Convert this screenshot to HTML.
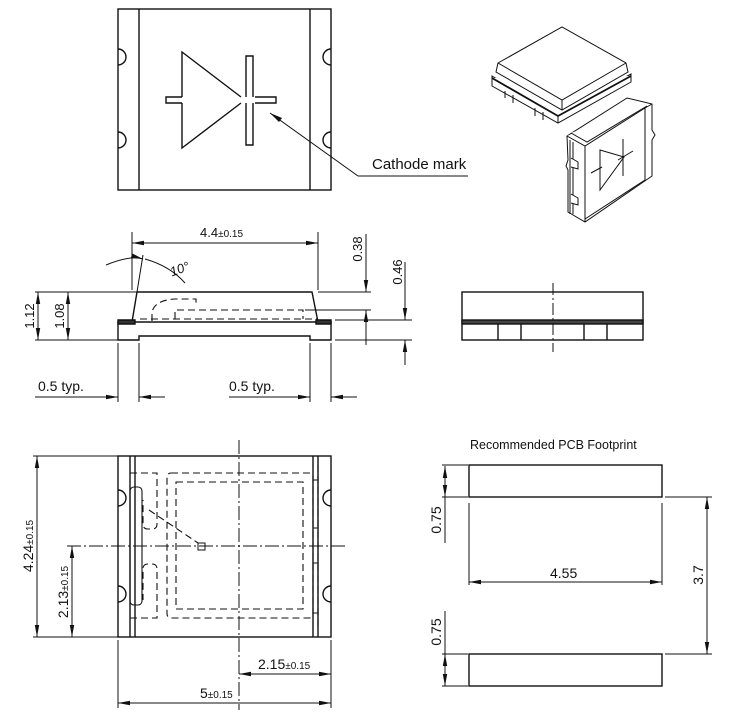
<!DOCTYPE html>
<html><head><meta charset="utf-8"><style>
html,body{margin:0;padding:0;background:#fff;}
svg{display:block;}
text{font-family:"Liberation Sans",sans-serif;fill:#111;}
</style></head><body>
<svg width="735" height="724" viewBox="0 0 735 724" xmlns="http://www.w3.org/2000/svg">
<defs>
<marker id="a" viewBox="0 0 12 6" refX="12" refY="3" markerWidth="12" markerHeight="6" orient="auto-start-reverse" markerUnits="userSpaceOnUse"><path d="M0,0.8 L12,3 L0,5.2z" fill="#111"/></marker>
</defs>
<g fill="none" stroke="#111" stroke-width="1.4">
<!-- TOP VIEW -->
<rect x="118" y="9" width="213" height="181"/>
<line x1="139" y1="9" x2="139" y2="190"/><line x1="310" y1="9" x2="310" y2="190"/>
<path d="M118,49 A8,8 0 0 1 118,65 M118,132 A8,8 0 0 1 118,148 M331,49 A8,8 0 0 0 331,65 M331,132 A8,8 0 0 0 331,148"/>
<path d="M182,97 V52 L241,97 M182,103 V148 L241,103 M182,97 H166 V103 H182 M255,97 H276 V103 H255 M246,97 V56 H253 V97 M246,103 V145 H253 V103"/>
<path d="M358,176 L270,113 M358,176 H468" stroke-width="1"/>
<path d="M270,113 L282,118 L279,122z" fill="#111" stroke="none"/>
</g>
<text x="372" y="169" font-size="15">Cathode mark</text>

<!-- ISOMETRIC TOP PIECE -->
<g fill="#fff" stroke="#111" stroke-width="1">
<path d="M492,76 L558,114 L631,74 L631,82 L558,123 L492,86 Z"/>
<path d="M492,78 L558,116 L631,76" stroke-width="1.8"/>
<path d="M505,91 V98 M513,95 V103 M535,108 V116 M543,112 V120 M558,116 V123"/>
<path d="M498,63 L562,27 L626,63 L628,72 L562,110 L496,72 Z"/>
<path d="M498,63 L562,100 L626,63 M562,100 V110"/>
</g>
<!-- ISOMETRIC BOTTOM PIECE -->
<g fill="#fff" stroke="#111" stroke-width="1">
<path d="M567,136 L627,98 L652,104 L652,130 L655,135 L652,140 L652,176 L585,222 L568,212 L568,170 L566,166 L568,160 Z"/>
<path d="M567,136 L585,146 L645,108 L652,104 M585,146 V222 M645,108 V180 L585,219 M570,140 L570,214 M573,142 V214"/>
<path d="M571,133 L587,142 L647,106" />
<path d="M600,150 L624,157 L600,190 Z M591,173 L602,167 M618,160 L633,151 M623,139 L623,176"/>
<path d="M571,158 L578,162 L578,169 L571,167 M571,194 L578,198 L578,205 L571,203"/>
</g>

<!-- SIDE VIEW -->
<g fill="none" stroke="#111" stroke-width="1.4">
<path d="M132,322 L137,292 H312 L318,322"/>
<path d="M118,322 H331 V340 H310 V336 H139 V340 H118 Z"/>
<path d="M118,320 H135 V324 H118Z M316,320 H331 V324 H316Z" fill="#333"/>
<g stroke-dasharray="7,4" stroke-width="1.1">
<path d="M152,321 V312 Q155,300 175,299 H196 V306"/>
<path d="M175,319 V310 H303 V319"/>
<path d="M140,319 H318"/>
</g>
</g>
<g fill="none" stroke="#111" stroke-width="1">
<path d="M132,290 V232 M318,290 V232"/>
<line x1="132" y1="243" x2="318" y2="243" marker-start="url(#a)" marker-end="url(#a)"/>
<path d="M137,292 L143,255"/>
<path d="M106,265 Q130,255 143,259" marker-end="url(#a)"/>
<path d="M145,259 Q170,266 185,283"/>
<path d="M35,292 H137 M35,340 H118 M318,292 H371 M305,310 H371 M335,320 H412 M335,340 H412"/>
<line x1="38" y1="292" x2="38" y2="340" marker-start="url(#a)" marker-end="url(#a)"/>
<line x1="68" y1="292" x2="68" y2="340" marker-start="url(#a)" marker-end="url(#a)"/>
<line x1="366" y1="234" x2="366" y2="292" marker-end="url(#a)"/>
<line x1="366" y1="345" x2="366" y2="310" marker-end="url(#a)"/>
<line x1="405" y1="262" x2="405" y2="320" marker-end="url(#a)"/>
<line x1="405" y1="365" x2="405" y2="340" marker-end="url(#a)"/>
<path d="M118,343 V402 M139,343 V402 M310,343 V402 M331,343 V402"/>
<line x1="35" y1="397" x2="118" y2="397" marker-end="url(#a)"/>
<line x1="165" y1="397" x2="139" y2="397" marker-end="url(#a)"/>
<line x1="229" y1="397" x2="310" y2="397" marker-end="url(#a)"/>
<line x1="357" y1="397" x2="331" y2="397" marker-end="url(#a)"/>
</g>
<text x="200" y="237" font-size="13">4.4<tspan font-size="10">±0.15</tspan></text>
<text x="170" y="274" font-size="13" font-style="italic" transform="rotate(-20 178 270)">10°</text>
<text font-size="13" transform="translate(34,316) rotate(-90)" text-anchor="middle">1.12</text>
<text font-size="13" transform="translate(64,316) rotate(-90)" text-anchor="middle">1.08</text>
<text font-size="13" transform="translate(362,249) rotate(-90)" text-anchor="middle">0.38</text>
<text font-size="13" transform="translate(402,272) rotate(-90)" text-anchor="middle">0.46</text>
<text x="38" y="391" font-size="14">0.5 typ.</text>
<text x="229" y="391" font-size="14">0.5 typ.</text>

<!-- RIGHT SIDE VIEW -->
<g fill="none" stroke="#111" stroke-width="1.4">
<rect x="462" y="292" width="181" height="48"/>
<rect x="462" y="320" width="181" height="4" fill="#444"/>
<path d="M498,324 V340 M521,324 V340 M584,324 V340 M607,324 V340"/>
<path d="M553,283 V352" stroke-width="1" stroke-dasharray="12,3,2,3"/>
</g>

<!-- BOTTOM VIEW -->
<g fill="none" stroke="#111" stroke-width="1.4">
<rect x="118" y="456" width="213" height="181"/>
<path d="M130,456 V637 M135,456 V637 M313,456 V637 M318,456 V637"/>
<path d="M118,490 A8,8 0 0 1 118,506 M118,586 A8,8 0 0 1 118,602 M331,490 A8,8 0 0 0 331,506 M331,586 A8,8 0 0 0 331,602"/>
<rect x="130" y="487" width="12" height="118" rx="4" stroke-width="1.1"/>
<g stroke-dasharray="7,4" stroke-width="1.1">
<rect x="167" y="473" width="146" height="145" rx="4"/>
<rect x="176" y="482" width="127" height="127"/>
<path d="M130,473 H157 V524 Q157,529 152,529 H148 Q143,529 143,524 V500"/>
<path d="M130,618 H157 V569 Q157,564 152,564 H148 Q143,564 143,569 V600"/>
<path d="M149,510 L198,543"/>
<path d="M318,465 V628"/>
</g>
<rect x="313" y="480" width="5" height="48" stroke-width="1"/>
<rect x="313" y="563" width="5" height="50" stroke-width="1"/>
<rect x="198" y="543" width="7" height="7" stroke-width="1"/>
</g>
<g fill="none" stroke="#111" stroke-width="1">
<path d="M67,546 H345 M239,440 V710" stroke-dasharray="14,3,2,3"/>
<path d="M33,456 H118 M33,637 H118 M118,640 V708 M331,640 V708"/>
<line x1="37" y1="456" x2="37" y2="637" marker-start="url(#a)" marker-end="url(#a)"/>
<line x1="72" y1="546" x2="72" y2="637" marker-start="url(#a)" marker-end="url(#a)"/>
<line x1="239" y1="674" x2="331" y2="674" marker-start="url(#a)" marker-end="url(#a)"/>
<line x1="118" y1="703" x2="331" y2="703" marker-start="url(#a)" marker-end="url(#a)"/>
</g>
<text font-size="14" transform="translate(33,546) rotate(-90)" text-anchor="middle">4.24<tspan font-size="10">±0.15</tspan></text>
<text font-size="14" transform="translate(68,592) rotate(-90)" text-anchor="middle">2.13<tspan font-size="10">±0.15</tspan></text>
<text x="258" y="669" font-size="14">2.15<tspan font-size="10">±0.15</tspan></text>
<text x="200" y="698" font-size="14">5<tspan font-size="10">±0.15</tspan></text>

<!-- PCB FOOTPRINT -->
<text x="470" y="449" font-size="12.5">Recommended PCB Footprint</text>
<g fill="none" stroke="#111" stroke-width="1.4">
<rect x="469" y="465" width="193" height="32"/>
<rect x="469" y="654" width="193" height="32"/>
</g>
<g fill="none" stroke="#111" stroke-width="1">
<path d="M442,465 H468 M442,497 H468 M442,654 H468 M442,686 H468 M665,497 H712 M665,654 H712 M469,503 V585 M662,503 V585"/>
<line x1="445" y1="466" x2="445" y2="497" marker-start="url(#a)" marker-end="url(#a)"/>
<path d="M445,497 V543 M445,611 V654"/>
<line x1="445" y1="654" x2="445" y2="686" marker-start="url(#a)" marker-end="url(#a)"/>
<line x1="469" y1="582" x2="662" y2="582" marker-start="url(#a)" marker-end="url(#a)"/>
<line x1="707" y1="497" x2="707" y2="654" marker-start="url(#a)" marker-end="url(#a)"/>
</g>
<text font-size="14" transform="translate(441,520) rotate(-90)" text-anchor="middle">0.75</text>
<text font-size="14" transform="translate(441,632) rotate(-90)" text-anchor="middle">0.75</text>
<text x="550" y="578" font-size="14">4.55</text>
<text font-size="14" transform="translate(703,575) rotate(-90)" text-anchor="middle">3.7</text>
</svg>
</body></html>
